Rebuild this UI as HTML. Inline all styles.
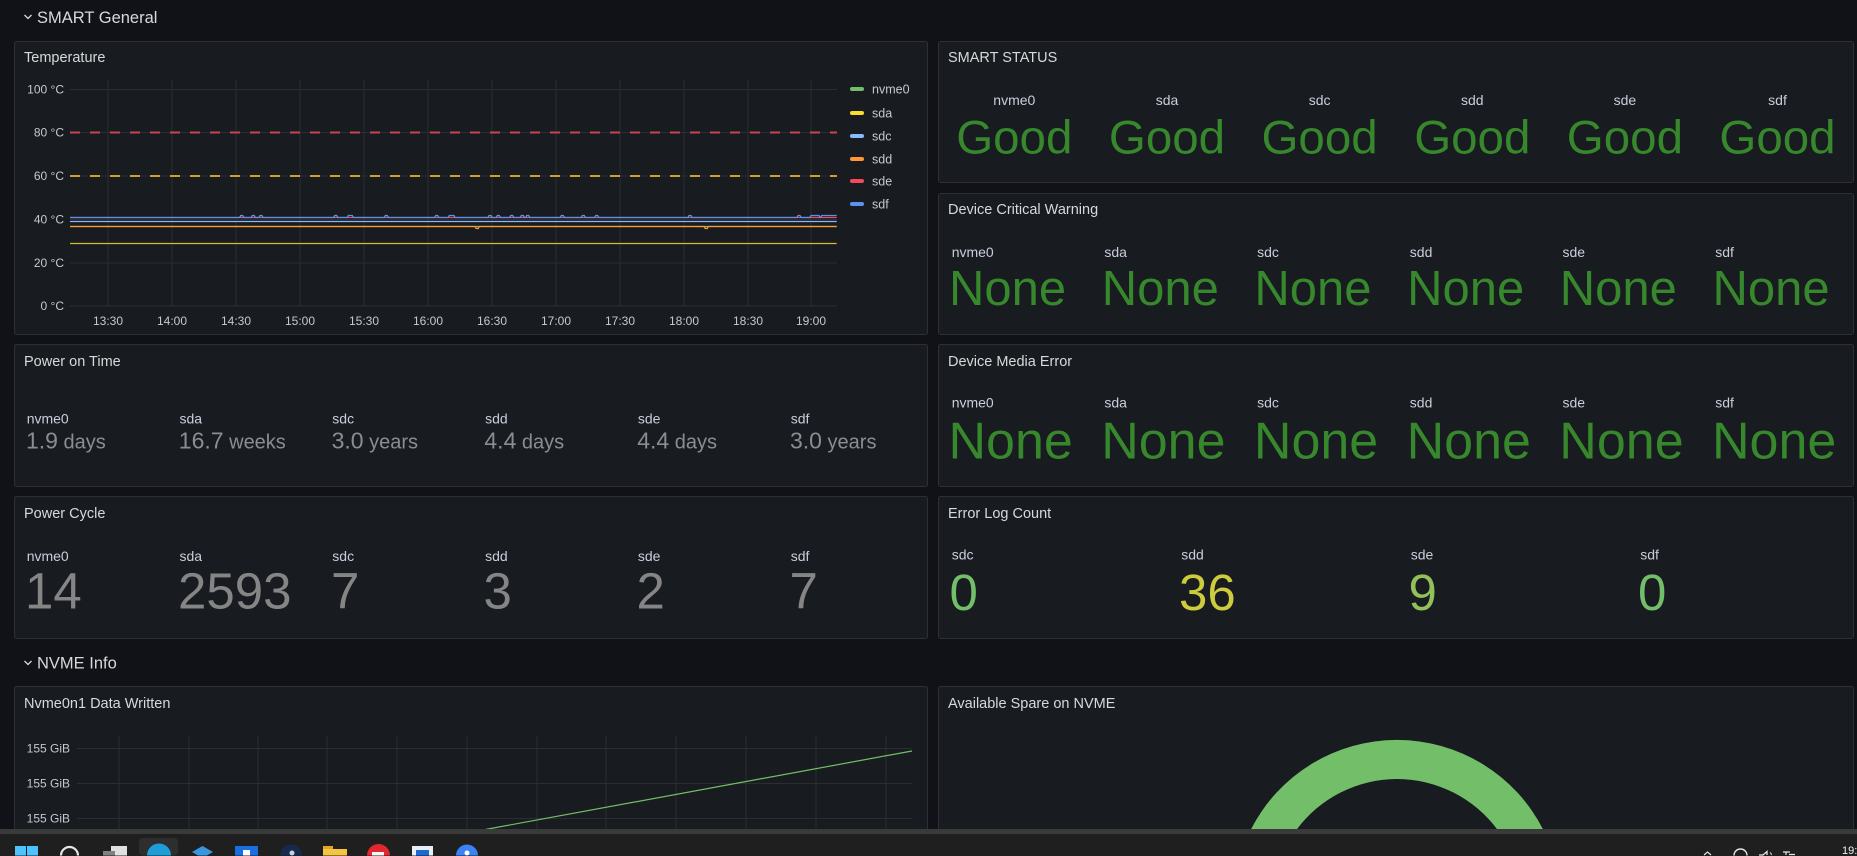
<!DOCTYPE html>
<html>
<head>
<meta charset="utf-8">
<style>
  html,body{margin:0;padding:0;background:#111217;width:1857px;height:856px;overflow:hidden;}
  svg{display:block;}
  text{font-family:"Liberation Sans",Arial,sans-serif;}
</style>
</head>
<body>
<svg width="1857" height="856" viewBox="0 0 1857 856" xmlns="http://www.w3.org/2000/svg">
  <rect x="0" y="0" width="1857" height="856" fill="#111217"/>

  <!-- Row header SMART General -->
  <path d="M24.5 15 L28 18.5 L31.5 15" fill="none" stroke="#d8d9da" stroke-width="1.3"/>
  <text x="37" y="23" font-size="16.5" fill="#d8d9da">SMART General</text>

  <!-- Panels -->
  <g fill="#181b1f" stroke="#2c2f35" stroke-width="1">
    <rect x="14.5" y="41.5" width="913" height="293" rx="2"/>
    <rect x="938.5" y="41.5" width="915" height="141" rx="2"/>
    <rect x="938.5" y="193.5" width="915" height="141" rx="2"/>
    <rect x="14.5" y="344.5" width="913" height="142" rx="2"/>
    <rect x="938.5" y="344.5" width="915" height="142" rx="2"/>
    <rect x="14.5" y="496.5" width="913" height="142" rx="2"/>
    <rect x="938.5" y="496.5" width="915" height="142" rx="2"/>
    <rect x="14.5" y="686.5" width="913" height="168" rx="2"/>
    <rect x="938.5" y="686.5" width="915" height="168" rx="2"/>
  </g>

  <!-- Panel titles -->
  <g font-size="14.5" fill="#d8d9da">
    <text x="24" y="62">Temperature</text>
    <text x="948" y="62">SMART STATUS</text>
    <text x="948" y="214">Device Critical Warning</text>
    <text x="24" y="366">Power on Time</text>
    <text x="948" y="366">Device Media Error</text>
    <text x="24" y="518">Power Cycle</text>
    <text x="948" y="518">Error Log Count</text>
    <text x="24" y="708">Nvme0n1 Data Written</text>
    <text x="948" y="708">Available Spare on NVME</text>
  </g>

  <!-- Temperature chart grid -->
  <g stroke="#2a2d32" stroke-width="1">
    <line x1="70" y1="89.5" x2="837" y2="89.5"/>
    <line x1="70" y1="132.5" x2="837" y2="132.5"/>
    <line x1="70" y1="176" x2="837" y2="176"/>
    <line x1="70" y1="219.5" x2="837" y2="219.5"/>
    <line x1="70" y1="263" x2="837" y2="263"/>
    <line x1="70" y1="306" x2="837" y2="306"/>
    <line x1="108" y1="80" x2="108" y2="306"/>
    <line x1="172" y1="80" x2="172" y2="306"/>
    <line x1="236" y1="80" x2="236" y2="306"/>
    <line x1="300" y1="80" x2="300" y2="306"/>
    <line x1="364" y1="80" x2="364" y2="306"/>
    <line x1="428" y1="80" x2="428" y2="306"/>
    <line x1="492" y1="80" x2="492" y2="306"/>
    <line x1="556" y1="80" x2="556" y2="306"/>
    <line x1="620" y1="80" x2="620" y2="306"/>
    <line x1="684" y1="80" x2="684" y2="306"/>
    <line x1="748" y1="80" x2="748" y2="306"/>
    <line x1="811" y1="80" x2="811" y2="306"/>
  </g>
  <g font-size="12" fill="#c7c8d0" text-anchor="end">
    <text x="64" y="93.5">100 °C</text>
    <text x="64" y="136.5">80 °C</text>
    <text x="64" y="180">60 °C</text>
    <text x="64" y="223.5">40 °C</text>
    <text x="64" y="267">20 °C</text>
    <text x="64" y="310">0 °C</text>
  </g>
  <g font-size="12" fill="#c7c8d0" text-anchor="middle">
    <text x="108" y="325">13:30</text>
    <text x="172" y="325">14:00</text>
    <text x="236" y="325">14:30</text>
    <text x="300" y="325">15:00</text>
    <text x="364" y="325">15:30</text>
    <text x="428" y="325">16:00</text>
    <text x="492" y="325">16:30</text>
    <text x="556" y="325">17:00</text>
    <text x="620" y="325">17:30</text>
    <text x="684" y="325">18:00</text>
    <text x="748" y="325">18:30</text>
    <text x="811" y="325">19:00</text>
  </g>
  <!-- thresholds -->
  <line x1="70" y1="132.5" x2="837" y2="132.5" stroke="#c94452" stroke-width="2" stroke-dasharray="10,10"/>
  <line x1="70" y1="176" x2="837" y2="176" stroke="#c9a22e" stroke-width="2" stroke-dasharray="10,10"/>
  <!-- series -->
  <g fill="none" stroke-width="1.3">
    <path d="M70 243.5 H836.7" stroke="#d7bc2a"/>
    <path d="M70 226.5 H836.7" stroke="#73bf69"/>
    <path d="M70 226.5 H475.2 L476.2 228.5 H478.2 L479.2 226.5 H704.2 L705.2 228.5 H707.2 L708.2 226.5 H836.7" stroke="#ff9830"/>
    <path d="M70 221.5 H836.7" stroke="#8ab8ff"/>
    <path d="M70 217.5 H836.7" stroke="#f2495c"/>
    <path d="M70 217.5 H239.7 L240.7 215.5 H242.7 L243.7 217.5 H251.3 L252.3 215.5 H254.3 L255.3 217.5 H259 L260 215.5 H262 L263 217.5 H333.7 L334.7 215.5 H336.7 L337.7 217.5 H347.3 L348.3 215.5 H352.3 L353.3 217.5 H384.3 L385.3 215.5 H387.3 L388.3 217.5 H434.7 L435.7 215.5 H437.7 L438.7 217.5 H448.3 L449.3 215.5 H454 L455 217.5 H488 L489 215.5 H491 L492 217.5 H496.3 L497.3 215.5 H499.3 L500.3 217.5 H509.7 L510.7 215.5 H512.7 L513.7 217.5 H520.3 L521.3 215.5 H523.3 L524.3 217.5 H525.7 L526.7 215.5 H528.7 L529.7 217.5 H560.3 L561.3 215.5 H563.3 L564.3 217.5 H581.3 L582.3 215.5 H584.3 L585.3 217.5 H594.7 L595.7 215.5 H597.7 L598.7 217.5 H688 L689 215.5 H691 L692 217.5 H797 L798 215.5 H800 L801 217.5 H810 L811 215.5 H819 L820 217.5 H820.7 L821.7 215.5 H836.7" stroke="#5794f2"/>
  </g>
  <!-- legend -->
  <g>
    <rect x="850" y="87" width="14" height="4" rx="2" fill="#73bf69"/>
    <rect x="850" y="111" width="14" height="4" rx="2" fill="#fade2a"/>
    <rect x="850" y="134" width="14" height="4" rx="2" fill="#8ab8ff"/>
    <rect x="850" y="157" width="14" height="4" rx="2" fill="#ff9830"/>
    <rect x="850" y="179" width="14" height="4" rx="2" fill="#f2495c"/>
    <rect x="850" y="202" width="14" height="4" rx="2" fill="#5794f2"/>
  </g>
  <g font-size="12.5" fill="#c7c8d0">
    <text x="872" y="93.5">nvme0</text>
    <text x="872" y="117.5">sda</text>
    <text x="872" y="140.5">sdc</text>
    <text x="872" y="163.5">sdd</text>
    <text x="872" y="185.5">sde</text>
    <text x="872" y="208.5">sdf</text>
  </g>

  <!-- SMART STATUS -->
  <g font-size="14" fill="#ccccdc" text-anchor="middle">
    <text x="1014.3" y="105">nvme0</text>
    <text x="1167" y="105">sda</text>
    <text x="1319.6" y="105">sdc</text>
    <text x="1472.3" y="105">sdd</text>
    <text x="1624.9" y="105">sde</text>
    <text x="1777.5" y="105">sdf</text>
  </g>
  <g font-size="47.5" fill="#37872d" text-anchor="middle">
    <text x="1014.3" y="153.3">Good</text>
    <text x="1167" y="153.3">Good</text>
    <text x="1319.6" y="153.3">Good</text>
    <text x="1472.3" y="153.3">Good</text>
    <text x="1624.9" y="153.3">Good</text>
    <text x="1777.5" y="153.3">Good</text>
  </g>

  <!-- Device Critical Warning -->
  <g font-size="14" fill="#ccccdc">
    <text x="951.7" y="257">nvme0</text>
    <text x="1104.4" y="257">sda</text>
    <text x="1257.1" y="257">sdc</text>
    <text x="1409.8" y="257">sdd</text>
    <text x="1562.5" y="257">sde</text>
    <text x="1715.2" y="257">sdf</text>
  </g>
  <g font-size="49" fill="#37872d">
    <text x="949" y="305">None</text>
    <text x="1101.7" y="305">None</text>
    <text x="1254.4" y="305">None</text>
    <text x="1407.1" y="305">None</text>
    <text x="1559.8" y="305">None</text>
    <text x="1712.5" y="305">None</text>
  </g>

  <!-- Device Media Error -->
  <g font-size="14" fill="#ccccdc">
    <text x="951.7" y="407.5">nvme0</text>
    <text x="1104.4" y="407.5">sda</text>
    <text x="1257.1" y="407.5">sdc</text>
    <text x="1409.8" y="407.5">sdd</text>
    <text x="1562.5" y="407.5">sde</text>
    <text x="1715.2" y="407.5">sdf</text>
  </g>
  <g font-size="52" fill="#37872d">
    <text x="948.5" y="458.3">None</text>
    <text x="1101.2" y="458.3">None</text>
    <text x="1253.9" y="458.3">None</text>
    <text x="1406.6" y="458.3">None</text>
    <text x="1559.3" y="458.3">None</text>
    <text x="1712" y="458.3">None</text>
  </g>

  <!-- Error Log Count -->
  <g font-size="14" fill="#ccccdc">
    <text x="951.7" y="559.5">sdc</text>
    <text x="1181.2" y="559.5">sdd</text>
    <text x="1410.7" y="559.5">sde</text>
    <text x="1640.2" y="559.5">sdf</text>
  </g>
  <g font-size="51">
    <text x="949.5" y="610" fill="#73bf69">0</text>
    <text x="1179" y="610" fill="#cccc3c">36</text>
    <text x="1408.5" y="610" fill="#92c05a">9</text>
    <text x="1638" y="610" fill="#73bf69">0</text>
  </g>

  <!-- Power on Time -->
  <g font-size="14" fill="#ccccdc">
    <text x="26.7" y="423.5">nvme0</text>
    <text x="179.5" y="423.5">sda</text>
    <text x="332.3" y="423.5">sdc</text>
    <text x="485.1" y="423.5">sdd</text>
    <text x="637.9" y="423.5">sde</text>
    <text x="790.7" y="423.5">sdf</text>
  </g>
  <g font-size="23" fill="#8b8d91">
    <text x="26" y="448.3">1.9<tspan font-size="20"> days</tspan></text>
    <text x="178.8" y="448.3">16.7<tspan font-size="20"> weeks</tspan></text>
    <text x="331.6" y="448.3">3.0<tspan font-size="20"> years</tspan></text>
    <text x="484.4" y="448.3">4.4<tspan font-size="20"> days</tspan></text>
    <text x="637.2" y="448.3">4.4<tspan font-size="20"> days</tspan></text>
    <text x="790" y="448.3">3.0<tspan font-size="20"> years</tspan></text>
  </g>

  <!-- Power Cycle -->
  <g font-size="14" fill="#ccccdc">
    <text x="26.7" y="561">nvme0</text>
    <text x="179.5" y="561">sda</text>
    <text x="332.3" y="561">sdc</text>
    <text x="485.1" y="561">sdd</text>
    <text x="637.9" y="561">sde</text>
    <text x="790.7" y="561">sdf</text>
  </g>
  <g font-size="51" fill="#858585">
    <text x="25" y="608.3">14</text>
    <text x="178" y="608.3">2593</text>
    <text x="331" y="608.3">7</text>
    <text x="483.5" y="608.3">3</text>
    <text x="636.5" y="608.3">2</text>
    <text x="789.5" y="608.3">7</text>
  </g>

  <!-- NVME Info row header -->
  <path d="M24.5 661 L28 664.5 L31.5 661" fill="none" stroke="#d8d9da" stroke-width="1.3"/>
  <text x="37" y="668.3" font-size="16.5" fill="#d8d9da">NVME Info</text>

  <!-- Nvme data written chart -->
  <g stroke="#2a2d32" stroke-width="1">
    <line x1="77" y1="748.5" x2="912" y2="748.5"/>
    <line x1="77" y1="783.5" x2="912" y2="783.5"/>
    <line x1="77" y1="818.5" x2="912" y2="818.5"/>
    <line x1="119" y1="736" x2="119" y2="830"/>
    <line x1="189" y1="736" x2="189" y2="830"/>
    <line x1="258" y1="736" x2="258" y2="830"/>
    <line x1="327" y1="736" x2="327" y2="830"/>
    <line x1="397" y1="736" x2="397" y2="830"/>
    <line x1="467" y1="736" x2="467" y2="830"/>
    <line x1="537" y1="736" x2="537" y2="830"/>
    <line x1="606" y1="736" x2="606" y2="830"/>
    <line x1="676" y1="736" x2="676" y2="830"/>
    <line x1="746" y1="736" x2="746" y2="830"/>
    <line x1="816" y1="736" x2="816" y2="830"/>
    <line x1="886" y1="736" x2="886" y2="830"/>
  </g>
  <g font-size="12" fill="#c7c8d0" text-anchor="end">
    <text x="70" y="752.5">155 GiB</text>
    <text x="70" y="787.5">155 GiB</text>
    <text x="70" y="822.5">155 GiB</text>
  </g>
  <path d="M483 830 L488 829 L912 751" fill="none" stroke="#73bf69" stroke-width="1.2"/>

  <!-- Gauge (arc band above taskbar) -->
  <path d="M1250.6 830 A164 164 0 0 1 1543.4 830 L1497.7 830 A125 125 0 0 0 1296.3 830 Z" fill="#73bf69"/>

  <!-- Taskbar -->
  <rect x="0" y="829" width="1857" height="5" fill="#3a3a3a"/>
  <rect x="0" y="834" width="1857" height="22" fill="#1f1f1f"/>
  <rect x="139" y="838" width="39" height="17.5" rx="4" fill="#2e2e2e"/>
  <!-- windows logo -->
  <rect x="15" y="846" width="11" height="9.5" fill="#4cc2ff"/>
  <rect x="27" y="846" width="11" height="9.5" fill="#4cc2ff"/>
  <!-- search -->
  <path d="M61 855.5 A8.5 8.5 0 0 1 78 855.5" fill="none" stroke="#e6e6e6" stroke-width="2.2"/>
  <!-- task view -->
  <rect x="111" y="846" width="16" height="9.5" fill="#e0e0e0"/>
  <rect x="103" y="851" width="12" height="4.5" fill="#808080"/>
  <!-- edge -->
  <path d="M147 855.5 A12 12 0 0 1 171 855.5 Z" fill="#1e9ed9"/>
  <!-- stack -->
  <path d="M192 852 L202.5 846 L213 852 L207 855.5 L198 855.5 Z" fill="#3a96dd"/>
  <!-- blue square app -->
  <rect x="235" y="846" width="23" height="9.5" fill="#1a6fe0"/>
  <rect x="243" y="850" width="7" height="5.5" fill="#ffffff"/>
  <!-- steam like -->
  <path d="M280 855.5 A11 11 0 0 1 302 855.5 Z" fill="#172a4d"/>
  <circle cx="292" cy="853" r="2.5" fill="#c8d0e0"/>
  <!-- folder -->
  <rect x="323" y="846" width="10" height="4" fill="#e0a526"/>
  <rect x="323" y="849" width="24" height="6.5" fill="#f5c542"/>
  <!-- red -->
  <path d="M367 855.5 A11.5 11.5 0 0 1 390 855.5 Z" fill="#e0282e"/>
  <rect x="372" y="852" width="12" height="3.5" fill="#f4f4f4"/>
  <!-- blue-white -->
  <rect x="412" y="846" width="21" height="9.5" fill="#e8eef8"/>
  <rect x="416" y="850" width="13" height="5.5" fill="#1b6ad4"/>
  <!-- blue circle -->
  <path d="M456 855.5 A11 11 0 0 1 478 855.5 Z" fill="#3b82f6"/>
  <circle cx="467" cy="853" r="2.5" fill="#ffffff"/>
  <!-- tray -->
  <path d="M1704 855 L1707.5 852 L1711 855" fill="none" stroke="#e0e0e0" stroke-width="1.2"/>
  <path d="M1734 855.5 A6.5 6.5 0 0 1 1747 855.5" fill="none" stroke="#e6e6e6" stroke-width="1.4"/>
  <path d="M1759 855 L1763 855 L1767 851.5 L1767 855" fill="none" stroke="#e6e6e6" stroke-width="1.3"/>
  <path d="M1770 852.5 Q1772 854 1771 855" fill="none" stroke="#e6e6e6" stroke-width="1"/>
  <path d="M1783 852 H1790 M1786 852 V855 M1789 854.5 H1795" fill="none" stroke="#e6e6e6" stroke-width="1.2"/>
  <text x="1842" y="854" font-size="11" fill="#f0f0f0">19:</text>
</svg>
</body>
</html>
